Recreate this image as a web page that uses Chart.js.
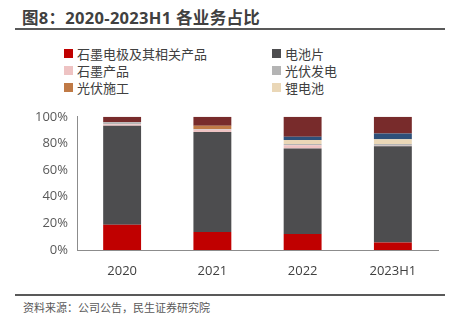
<!DOCTYPE html>
<html>
<head>
<meta charset="utf-8">
<script src="https://cdn.jsdelivr.net/npm/chart.js@4"></script>
<style>
  html, body { margin: 0; padding: 0; background: #fff; }
  body { width: 450px; height: 332px; position: relative; overflow: hidden;
         font-family: "Open Sans", "Noto Sans CJK SC", sans-serif; color: #404040; }
  .title { position: absolute; left: 22px; top: 5px; font-size: 16.5px; font-weight: bold;
           color: #404040; font-family: "Open Sans", "Noto Sans CJK SC", sans-serif; letter-spacing: 0.3px; }
  .rule { position: absolute; left: 15px; width: 430px; height: 2px; background: #595959; }
  .legend { position: absolute; left: 64px; top: 44px; width: 380px; }
  .legend-item { position: absolute; display: flex; align-items: center; font-size: 13px;
                 color: #404040; font-family: "Noto Sans CJK SC", sans-serif; white-space: nowrap; }
  .legend-dot { width: 9px; height: 9px; margin-right: 4px; display: inline-block; }
  .source { position: absolute; left: 23px; top: 299px; font-size: 11px; color: #595959;
            font-family: "Noto Sans CJK SC", sans-serif; }
  #wrap { position: absolute; left: 0; top: 100px; width: 450px; height: 190px; }
</style>
</head>
<body>
<div class="title">图8：2020-2023H1 各业务占比</div>
<div class="rule" style="top:28px"></div>
<div class="legend" id="legend"></div>
<div id="wrap"><canvas id="chart"></canvas></div>
<div class="rule" style="top:294px;height:1.5px"></div>
<div class="source">资料来源：公司公告，民生证券研究院</div>

<script>
/* ---- Datos ---- */
const categories = ['2020', '2021', '2022', '2023H1'];
const yTicks = [0, 20, 40, 60, 80, 100];

const graphiteElectrode = [19, 13.6, 12.1, 5.7];   // 石墨电极及其相关产品
const cells            = [74.3, 75, 64.1, 72.2];   // 电池片
const graphiteProducts = [1.2, 1.9, 2.4, 0.4];     // 石墨产品
const pvPower          = [1.4, 0.4, 1.0, 1.2];     // 光伏发电
const pvConstruction   = [0, 2.4, 0, 0];           // 光伏施工
const lithium          = [0, 0, 3.0, 3.6];         // 锂电池
const otherBlue        = [0, 0, 2.4, 4.3];         // (未列入图例)
const otherRed         = [4.1, 6.7, 15.0, 12.6];   // (未列入图例)

const series = [
  { label: '石墨电极及其相关产品', data: graphiteElectrode, color: '#C00000' },
  { label: '电池片',             data: cells,             color: '#4D4D4F' },
  { label: '石墨产品',           data: graphiteProducts,  color: '#EEC3C3' },
  { label: '光伏发电',           data: pvPower,           color: '#B4B4B4' },
  { label: '光伏施工',           data: pvConstruction,    color: '#C07A46' },
  { label: '锂电池',             data: lithium,           color: '#EAD7B7' },
  { label: '其他1',              data: otherBlue,         color: '#2E5079' },
  { label: '其他2',              data: otherRed,          color: '#782B2B' },
];

/* ---- Leyenda (solo 6 series, como el original) ---- */
const legendOrder = ['石墨电极及其相关产品', '电池片', '石墨产品', '光伏发电', '光伏施工', '锂电池'];
document.getElementById('legend').innerHTML = legendOrder.map((name, i) => {
  const s = series.find(x => x.label === name);
  const col = i % 2, row = Math.floor(i / 2);
  return `<div class="legend-item" style="left:${col * 208}px;top:${row * 17}px">
    <span class="legend-dot" style="background:${s.color}"></span><span>${s.label}</span></div>`;
}).join('');

/* ---- Gráfica ---- */
new Chart(document.getElementById('chart').getContext('2d'), {
  type: 'bar',
  data: {
    labels: categories,
    datasets: series.map(s => ({
      label: s.label,
      data: s.data,
      backgroundColor: s.color,
      borderWidth: 0,
      categoryPercentage: 1,
      barPercentage: 0.42,
    })),
  },
  options: {
    responsive: true,
    maintainAspectRatio: false,
    animation: false,
    layout: { padding: { top: 10, right: 12, bottom: 0, left: 0 } },
    plugins: { legend: { display: false }, tooltip: { enabled: false } },
    scales: {
      x: {
        stacked: true,
        grid: { display: false, drawTicks: false },
        border: { display: true, color: '#8C8C8C', width: 1 },
        ticks: { color: '#404040', font: { size: 13, family: '"Open Sans", sans-serif' }, padding: 13 },
        afterFit: scale => { scale.height = 40; },
      },
      y: {
        stacked: true,
        min: 0,
        max: 100,
        afterBuildTicks: scale => { scale.ticks = yTicks.map(v => ({ value: v })); },
        grid: { display: false, drawTicks: false },
        border: { display: true, color: '#8C8C8C', width: 1 },
        ticks: {
          color: '#595959',
          font: { size: 13, family: '"Open Sans", sans-serif' },
          padding: 9,
          callback: v => v + '%',
        },
        afterFit: scale => { scale.width = 77; },
      },
    },
  },
});
</script>
</body>
</html>
